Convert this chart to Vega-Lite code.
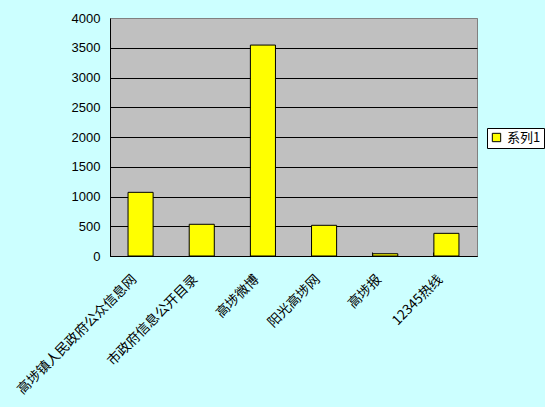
{
  "$schema": "https://vega.github.io/schema/vega-lite/v6.json",
  "autosize": {"type": "none"},
  "padding": {"left": 110, "top": 18, "right": 68, "bottom": 151},
  "width": 367,
  "height": 238,
  "background": "#CCFFFF",
  "data": {
    "values": [
      {"source": "高埗镇人民政府公众信息网", "count": 1070, "series": "系列1"},
      {"source": "市政府信息公开目录", "count": 533, "series": "系列1"},
      {"source": "高埗微博", "count": 3545, "series": "系列1"},
      {"source": "阳光高埗网", "count": 516, "series": "系列1"},
      {"source": "高埗报", "count": 38, "series": "系列1"},
      {"source": "12345热线", "count": 381, "series": "系列1"}
    ]
  },
  "mark": {"type": "bar", "stroke": "#000000", "strokeWidth": 1},
  "encoding": {
    "x": {
      "field": "source",
      "type": "nominal",
      "sort": null,
      "scale": {"paddingInner": 0.59, "paddingOuter": 0.295},
      "axis": {
        "title": null,
        "labelAngle": -45,
        "labelAlign": "right",
        "labelBaseline": "middle",
        "labelFont": "Noto Sans CJK SC",
        "labelFontSize": 13.5,
        "labelColor": "#000000",
        "labelPadding": 25,
        "labelOffset": -6,
        "domainColor": "#000000",
        "tickColor": "#000000",
        "tickWidth": 1,
        "tickSize": -4,
        "bandPosition": 0,
        "tickExtra": true
      }
    },
    "y": {
      "field": "count",
      "type": "quantitative",
      "scale": {"domain": [0, 4000]},
      "axis": {
        "title": null,
        "values": [0, 500, 1000, 1500, 2000, 2500, 3000, 3500, 4000],
        "format": "d",
        "labelFont": "Liberation Sans",
        "labelFontSize": 13,
        "labelColor": "#000000",
        "labelPadding": 10,
        "ticks": false,
        "domainColor": "#000000",
        "grid": true,
        "gridColor": {"condition": {"test": "datum.value == 4000", "value": "#808080"}, "value": "#000000"},
        "gridOpacity": 1,
        "gridWidth": 1
      }
    },
    "fill": {
      "field": "series",
      "type": "nominal",
      "scale": {"range": ["#FFFF00"]},
      "legend": {
        "title": null,
        "orient": "none",
        "legendX": 377,
        "legendY": 110,
        "fillColor": "#FFFFFF",
        "strokeColor": "#000000",
        "padding": 3,
        "symbolType": "square",
        "symbolSize": 70,
        "symbolStrokeColor": "#000000",
        "symbolStrokeWidth": 1,
        "labelFont": "Noto Sans CJK SC",
        "labelFontSize": 13,
        "labelColor": "#000000"
      }
    }
  },
  "config": {
    "view": {"fill": "#C0C0C0", "stroke": "#808080", "strokeWidth": 1}
  }
}
